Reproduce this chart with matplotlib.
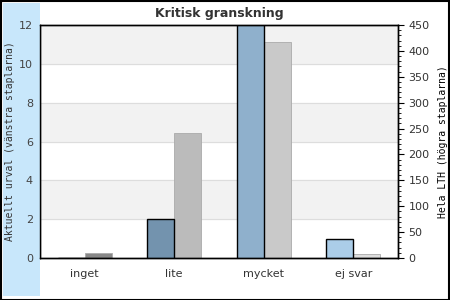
import numpy as np
import matplotlib
matplotlib.use("Agg")
from matplotlib import pyplot as plt
from matplotlib.patches import Rectangle
from matplotlib.ticker import MultipleLocator

categories = ["inget", "lite", "mycket", "ej svar"]
urval = [0, 2, 12, 1]            # left axis
hela_lth = [10, 242, 418, 8]     # right axis

urval_colors = ["#7393ae", "#7393ae", "#8fb0cc", "#abcde8"]
lth_colors = ["#888888", "#bbbbbb", "#c9c9c9", "#dddddd"]

fig = plt.figure(figsize=(4.5, 3), dpi=100)
fig.patch.set_facecolor("white")

# light blue strip on the left and black frame
fig.patches.append(Rectangle((3/450, 4/300), 37/450, 293/300, transform=fig.transFigure,
                             facecolor="#c8e7fb", edgecolor="none", zorder=0))
fig.patches.append(Rectangle((0.5/450, 0.5/300), 448.5/450, 298.5/300, transform=fig.transFigure,
                             facecolor="none", edgecolor="black", linewidth=1.5, zorder=5))

ax = fig.add_axes([40/450, 42/300, 358/450, 233/300])
ax2 = ax.twinx()

x = np.arange(len(categories))
w = 0.3

# alternating background bands, drawn on the lower (right) axes
ax2.set_ylim(0, 450)
step = 450 / 6
for i in range(6):
    if i % 2 == 1:
        ax2.axhspan(i * step, (i + 1) * step, color="#f2f2f2", zorder=0)
for i in range(1, 6):
    ax2.axhline(i * step, color="#dddddd", linewidth=0.8, zorder=0.5)

ax.bar(x - w/2, urval, width=w, color=urval_colors, edgecolor="black", linewidth=1, zorder=2)
ax2.bar(x + w/2, hela_lth, width=w, color=lth_colors, edgecolor="#aaaaaa", linewidth=0.6, zorder=2)

ax.set_xlim(-0.5, 3.5)
ax.set_ylim(0, 12)
ax.set_xticks(x)
ax.set_xticklabels(categories)
ax.set_yticks(range(0, 13, 2))
ax2.yaxis.set_major_locator(MultipleLocator(50))
ax2.yaxis.set_minor_locator(MultipleLocator(10))

ax.tick_params(axis="x", length=0, pad=8, labelsize=8, labelcolor="#333333")
ax.tick_params(axis="y", length=0, pad=5, labelsize=8, labelcolor="#444444")
ax2.tick_params(axis="y", which="major", length=4, direction="out", labelsize=8, labelcolor="#333333")
ax2.tick_params(axis="y", which="minor", length=2, direction="out")

for a in (ax, ax2):
    for s in a.spines.values():
        s.set_color("black")
        s.set_linewidth(1)

ax.set_ylabel("Aktuellt urval (vänstra staplarna)", family="DejaVu Sans Mono",
              fontsize=7, color="#333333", labelpad=3)
ax2.set_ylabel("Hela LTH (högra staplarna)", family="DejaVu Sans Mono",
               fontsize=7, color="black", labelpad=6)
ax.set_title("Kritisk granskning", fontsize=9, fontweight="bold", color="#333333", pad=6)

ax.set_zorder(ax2.get_zorder() + 1)
ax.patch.set_visible(False)

fig.savefig("out.png", dpi=100)
